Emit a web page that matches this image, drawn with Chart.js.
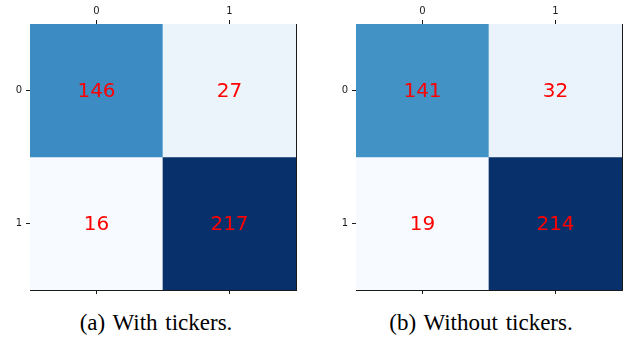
<!DOCTYPE html>
<html>
<head>
<meta charset="utf-8">
<script src="https://cdn.jsdelivr.net/npm/chart.js@4.4.1/dist/chart.umd.min.js"></script>
<style>
  html, body { margin: 0; padding: 0; background: #fff; width: 624px; height: 341px; overflow: hidden; }
  .panel { position: absolute; top: 0; }
  .caption {
    position: absolute; top: 311px; width: 300px; text-align: center; word-spacing: 2px;
    font: 23px/23px "Liberation Serif", "Times New Roman", serif; color: #000; white-space: nowrap;
  }
</style>
</head>
<body>
<canvas id="cmA" class="panel" width="312" height="300" style="left:0"></canvas>
<canvas id="cmB" class="panel" width="298" height="300" style="left:326px"></canvas>
<div id="capA" class="caption" style="left:6px"></div>
<div id="capB" class="caption" style="left:331px"></div>
<script>
// Class labels shared by rows and columns
const classLabels = ['0', '1'];

// Confusion matrix counts, one array per row
const withTickersRow0 = [146, 27];
const withTickersRow1 = [16, 217];
const withoutTickersRow0 = [141, 32];
const withoutTickersRow1 = [19, 214];

const captions = ['(a) With tickers.', '(b) Without tickers.'];

// Sequential blue colour ramp (light to dark)
const bluesStops = ['#f7fbff', '#deebf7', '#c6dbef', '#9ecae1', '#6baed6',
                    '#4292c6', '#2171b5', '#08519c', '#08306b'];

function hexToRgb(h) {
  return [1, 3, 5].map(i => parseInt(h.slice(i, i + 2), 16));
}

function blues(t) {
  t = Math.max(0, Math.min(1, t));
  const pos = t * (bluesStops.length - 1);
  const i = Math.min(Math.floor(pos), bluesStops.length - 2);
  const f = pos - i;
  const a = hexToRgb(bluesStops[i]), b = hexToRgb(bluesStops[i + 1]);
  const c = a.map((v, k) => Math.round(v + (b[k] - v) * f));
  return `rgb(${c[0]},${c[1]},${c[2]})`;
}

const inkColor = '#1a1a1a';
const tickFont = { family: 'DejaVu Sans', size: 10 };

// Writes each cell's count in the middle of its bar
const cellLabels = {
  id: 'cellLabels',
  afterDatasetsDraw(chart) {
    const ctx = chart.ctx;
    ctx.save();
    ctx.font = '20px "DejaVu Sans"';
    ctx.fillStyle = '#ff0000';
    ctx.textAlign = 'center';
    ctx.textBaseline = 'middle';
    chart.data.datasets.forEach((ds, r) => {
      chart.getDatasetMeta(r).data.forEach((bar, c) => {
        const p = bar.getProps(['x', 'y', 'base'], true);
        ctx.fillText(String(ds.counts[c]), p.x, (p.y + p.base) / 2 + 1);
      });
    });
    ctx.restore();
  }
};

function tickGrid() {
  return { offset: false, drawOnChartArea: false, drawTicks: true, tickLength: 4, color: inkColor, lineWidth: 1 };
}

function makeMatrix(canvasId, rows, rightWidth) {
  const all = rows.flat();
  const lo = Math.min(...all), hi = Math.max(...all);
  const datasets = rows.map((row, r) => ({
    data: row.map(() => [r - 0.5, r + 0.5]),
    counts: row,
    backgroundColor: row.map(v => blues((v - lo) / (hi - lo))),
    borderWidth: 0,
    grouped: false,
    barPercentage: 1,
    categoryPercentage: 1,
    xAxisID: 'x',
    yAxisID: 'y'
  }));

  return new Chart(document.getElementById(canvasId), {
    type: 'bar',
    data: { labels: classLabels, datasets },
    plugins: [cellLabels],
    options: {
      responsive: false,
      animation: false,
      devicePixelRatio: 1,
      layout: { padding: 0 },
      plugins: { legend: { display: false }, tooltip: { enabled: false }, title: { display: false } },
      scales: {
        x: {
          type: 'category', position: 'top', offset: true,
          grid: tickGrid(),
          border: { display: true, color: inkColor, width: 1 },
          ticks: { color: inkColor, font: tickFont, padding: 3, maxRotation: 0, autoSkip: false },
          afterFit(s) { s.height = 24; }
        },
        xb: {
          type: 'category', position: 'bottom', offset: true,
          grid: tickGrid(),
          border: { display: true, color: inkColor, width: 1 },
          ticks: { display: false },
          afterFit(s) { s.height = 10; }
        },
        y: {
          type: 'linear', position: 'left', reverse: true, min: -0.5, max: 1.5,
          afterBuildTicks(s) { s.ticks = classLabels.map((_, i) => ({ value: i })); },
          grid: tickGrid(),
          border: { display: true, color: inkColor, width: 1 },
          ticks: { color: inkColor, font: tickFont, padding: 4, callback: v => classLabels[v] },
          afterFit(s) { s.width = 30; }
        },
        yr: {
          type: 'linear', position: 'right', min: -0.5, max: 1.5,
          grid: { display: false },
          border: { display: true, color: inkColor, width: 1 },
          ticks: { display: false },
          afterFit(s) { s.width = rightWidth; }
        }
      }
    }
  });
}

makeMatrix('cmA', [withTickersRow0, withTickersRow1], 16);
makeMatrix('cmB', [withoutTickersRow0, withoutTickersRow1], 2);

document.getElementById('capA').textContent = captions[0];
document.getElementById('capB').textContent = captions[1];
</script>
</body>
</html>
